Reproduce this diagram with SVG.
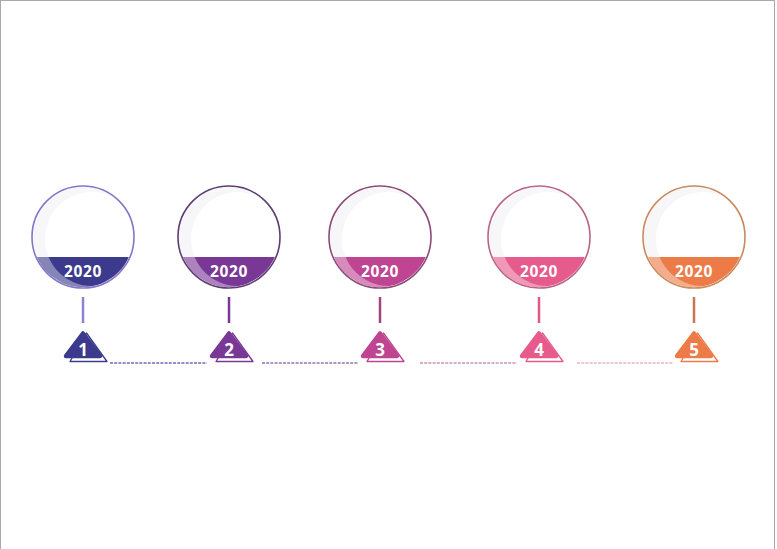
<svg xmlns="http://www.w3.org/2000/svg" width="777" height="549" viewBox="0 0 777 549">
<defs>
<style>
.ring{fill:#ffffff;stroke-width:1.6}
.glass{fill:#dcdce6;opacity:0.22}
.shine{fill:#ffffff;opacity:0.38}
.year{font-family:"Open Sans","DejaVu Sans",sans-serif;font-weight:700;font-size:15.5px;fill:#ffffff;text-anchor:middle;letter-spacing:0.6px}
.num{font-family:"Open Sans","DejaVu Sans",sans-serif;font-weight:700;font-size:17px;fill:#ffffff;text-anchor:middle}
.stem{stroke-width:2.5;fill:none}
.tri{stroke-width:4.5;stroke-linejoin:round}
.triback{fill:#ffffff;stroke-width:1.3;stroke-linejoin:round}
.dash{stroke-width:1.6;stroke-dasharray:3 1.2;fill:none}
</style>
<clipPath id="inner"><circle cx="0" cy="0" r="50"/></clipPath>
<clipPath id="band"><rect x="-55" y="20" width="110" height="40"/></clipPath>
<path id="crescent" fill-rule="evenodd" d="M-50,0a50,50 0 1,0 100,0a50,50 0 1,0 -100,0Z M-38,2a47,47 0 1,0 94,0a47,47 0 1,0 -94,0Z"/>
<path id="triF" d="M0,96.5 L17,119 L-17,119 Z"/>
<path id="triB" d="M3.5,96 L24,124.5 L-13,124.5 Z"/>
</defs>
<rect x="0" y="0" width="777" height="549" fill="#ffffff"/>
<g id="frame" stroke="#a8a8a8" stroke-width="1" fill="none">
<line x1="0.5" y1="0" x2="0.5" y2="549"/>
<line x1="0" y1="0.5" x2="775" y2="0.5"/>
<line x1="774.5" y1="0" x2="774.5" y2="549"/>
</g>
<g id="connectors">
<line class="dash" x1="110" y1="363" x2="207" y2="363" stroke="#6e6cb6"/>
<line class="dash" x1="262" y1="363" x2="358" y2="363" stroke="#9a72b6"/>
<line class="dash" x1="420" y1="363" x2="517" y2="363" stroke="#cc92bc"/>
<line class="dash" x1="577" y1="363" x2="673" y2="363" stroke="#eeb2c8"/>
</g>
<g id="node1" transform="translate(83,237)">
<circle class="ring" r="51" stroke="#8676c9"/>
<g clip-path="url(#inner)">
<use href="#crescent" class="glass"/>
<rect x="-55" y="20" width="110" height="40" fill="#3c3a8c"/>
<g clip-path="url(#band)"><use href="#crescent" class="shine"/></g>
</g>
<text class="year" x="0" y="40">2020</text>
<line class="stem" x1="0" y1="60" x2="0" y2="86" stroke="#8e80d2"/>
<use href="#triB" class="triback" stroke="#3c3a8c"/>
<use href="#triF" class="tri" fill="#3c3a8c" stroke="#3c3a8c"/>
<text class="num" x="0" y="119">1</text>
</g>
<g id="node2" transform="translate(229,237)">
<circle class="ring" r="51" stroke="#5e3d72"/>
<g clip-path="url(#inner)">
<use href="#crescent" class="glass"/>
<rect x="-55" y="20" width="110" height="40" fill="#7a3896"/>
<g clip-path="url(#band)"><use href="#crescent" class="shine"/></g>
</g>
<text class="year" x="0" y="40">2020</text>
<line class="stem" x1="0" y1="60" x2="0" y2="86" stroke="#7a3896"/>
<use href="#triB" class="triback" stroke="#7a3896"/>
<use href="#triF" class="tri" fill="#7a3896" stroke="#7a3896"/>
<text class="num" x="0" y="119">2</text>
</g>
<g id="node3" transform="translate(380,237)">
<circle class="ring" r="51" stroke="#8c4c7a"/>
<g clip-path="url(#inner)">
<use href="#crescent" class="glass"/>
<rect x="-55" y="20" width="110" height="40" fill="#bf4592"/>
<g clip-path="url(#band)"><use href="#crescent" class="shine"/></g>
</g>
<text class="year" x="0" y="40">2020</text>
<line class="stem" x1="0" y1="60" x2="0" y2="86" stroke="#a2447f"/>
<use href="#triB" class="triback" stroke="#bf4592"/>
<use href="#triF" class="tri" fill="#bf4592" stroke="#bf4592"/>
<text class="num" x="0" y="119">3</text>
</g>
<g id="node4" transform="translate(539,237)">
<circle class="ring" r="51" stroke="#b86688"/>
<g clip-path="url(#inner)">
<use href="#crescent" class="glass"/>
<rect x="-55" y="20" width="110" height="40" fill="#e65a8c"/>
<g clip-path="url(#band)"><use href="#crescent" class="shine"/></g>
</g>
<text class="year" x="0" y="40">2020</text>
<line class="stem" x1="0" y1="60" x2="0" y2="86" stroke="#e0588a"/>
<use href="#triB" class="triback" stroke="#e65a8c"/>
<use href="#triF" class="tri" fill="#e65a8c" stroke="#e65a8c"/>
<text class="num" x="0" y="119">4</text>
</g>
<g id="node5" transform="translate(694,237)">
<circle class="ring" r="51" stroke="#c98a60"/>
<g clip-path="url(#inner)">
<use href="#crescent" class="glass"/>
<rect x="-55" y="20" width="110" height="40" fill="#ec7b47"/>
<g clip-path="url(#band)"><use href="#crescent" class="shine"/></g>
</g>
<text class="year" x="0" y="40">2020</text>
<line class="stem" x1="0" y1="60" x2="0" y2="86" stroke="#c97658"/>
<use href="#triB" class="triback" stroke="#ec7b47"/>
<use href="#triF" class="tri" fill="#ec7b47" stroke="#ec7b47"/>
<text class="num" x="0" y="119">5</text>
</g>
</svg>
